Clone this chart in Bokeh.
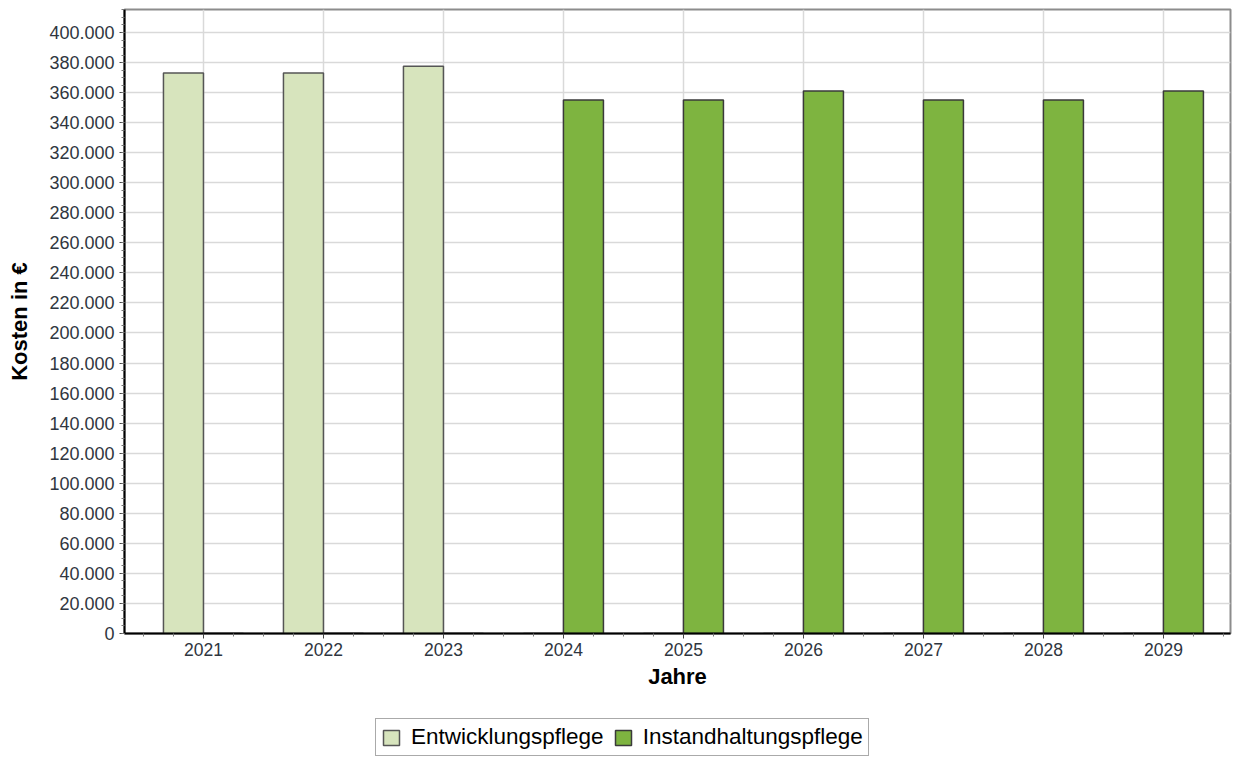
from bokeh.plotting import figure
from bokeh.models import (ColumnDataSource, FixedTicker, CustomJSTickFormatter,
                          Legend, LegendItem, Range1d)
from bokeh.layouts import column
from bokeh.transform import dodge
from bokeh.embed import file_html
from bokeh.resources import INLINE

years = [2021, 2022, 2023, 2024, 2025, 2026, 2027, 2028, 2029]
entwicklungspflege = [373000, 373000, 377500, 0, 0, 0, 0, 0, 0]
instandhaltungspflege = [0, 0, 0, 355000, 355000, 361000, 355000, 355000, 361000]
y_ticks = list(range(0, 400001, 20000))
series_names = ["Entwicklungspflege", "Instandhaltungspflege"]

src = ColumnDataSource(dict(year=years, ent=entwicklungspflege, ins=instandhaltungspflege))

FONT = "Liberation Sans"
bw = 1 / 3
LIGHT = dict(fill_color="#d7e4bd", line_color="#555555", line_width=1.5)
DARK = dict(fill_color="#7eb440", line_color="#3a3a3a", line_width=1.5)

p = figure(width=1234, height=712, output_backend="svg", toolbar_location=None,
           x_range=Range1d(2020.342, 2029.559), y_range=Range1d(0, 415300),
           min_border_left=124, min_border_right=4, min_border_top=9, min_border_bottom=79)
p.outline_line_color = "#8c8c8c"
p.outline_line_width = 2

r1 = p.vbar(x=dodge("year", -bw / 2, range=p.x_range), top="ent", width=bw, source=src, **LIGHT)
r2 = p.vbar(x=dodge("year", bw / 2, range=p.x_range), top="ins", width=bw, source=src, **DARK)

minor_x = [y + k * 0.25 for y in [years[0] - 1] + years for k in range(1, 4)]
p.xaxis.ticker = FixedTicker(ticks=years, minor_ticks=minor_x)
minor_y = list(range(0, 415001, 5000))
p.yaxis.ticker = FixedTicker(ticks=y_ticks, minor_ticks=minor_y)
p.yaxis.formatter = CustomJSTickFormatter(
    code="return tick.toFixed(0).replace(/\\B(?=(\\d{3})+(?!\\d))/g, '.');")

for ax in (p.xaxis[0], p.yaxis[0]):
    ax.axis_line_color = "black"
    ax.axis_line_width = 2
    ax.major_tick_line_color = "#444444"
    ax.minor_tick_line_color = "#777777"
    ax.major_tick_out = 5
    ax.major_tick_in = 0
    ax.minor_tick_out = 3
    ax.minor_tick_in = 0
    ax.major_label_text_font = FONT
    ax.major_label_text_color = "#2f3640"
    ax.axis_label_text_font = FONT
    ax.axis_label_text_font_style = "bold"
    ax.axis_label_text_color = "black"
    ax.axis_label_text_font_size = "22px"

p.xaxis.major_label_text_font_size = "17.5px"
p.yaxis.major_label_text_font_size = "18px"
p.xaxis.axis_label = "Jahre"
p.xaxis.major_label_standoff = 4
p.xaxis.axis_label_standoff = 5
p.yaxis.axis_label = "Kosten in €"
p.yaxis.major_label_standoff = 5
p.yaxis.axis_label_standoff = 14

p.xgrid.ticker = FixedTicker(ticks=years)
p.xgrid.grid_line_color = "#d9d9d9"
p.xgrid.grid_line_width = 1.5
p.ygrid.grid_line_color = "#d9d9d9"
p.ygrid.grid_line_width = 1.5

# legend strip below the chart (legend proxies reuse the chart data but stay hidden)
p2 = figure(width=1234, height=45, output_backend="svg", toolbar_location=None,
            x_axis_location=None, y_axis_location=None,
            x_range=Range1d(0, 1), y_range=Range1d(0, 1),
            min_border_left=0, min_border_right=0, min_border_top=0, min_border_bottom=0)
p2.outline_line_color = None
p2.xgrid.visible = False
p2.ygrid.visible = False
l1 = p2.vbar(x="year", top="ent", width=bw, source=src, visible=False, **LIGHT)
l2 = p2.vbar(x="year", top="ins", width=bw, source=src, visible=False, **DARK)

legend = Legend(items=[LegendItem(label=series_names[0], renderers=[l1]),
                       LegendItem(label=series_names[1], renderers=[l2])],
                orientation="horizontal", location=(251, 1), click_policy="none")
legend.label_text_font = FONT
legend.label_text_font_size = "22.5px"
legend.label_text_color = "black"
legend.glyph_width = 20
legend.glyph_height = 19
legend.border_line_color = "#555555"
legend.border_line_width = 1.5
legend.padding = 5
legend.spacing = 9
legend.label_standoff = 10
legend.margin = 0
legend.inactive_fill_alpha = 0
p2.add_layout(legend, "center")

open("out.html", "w").write(file_html(column(p, p2, spacing=0), INLINE))
